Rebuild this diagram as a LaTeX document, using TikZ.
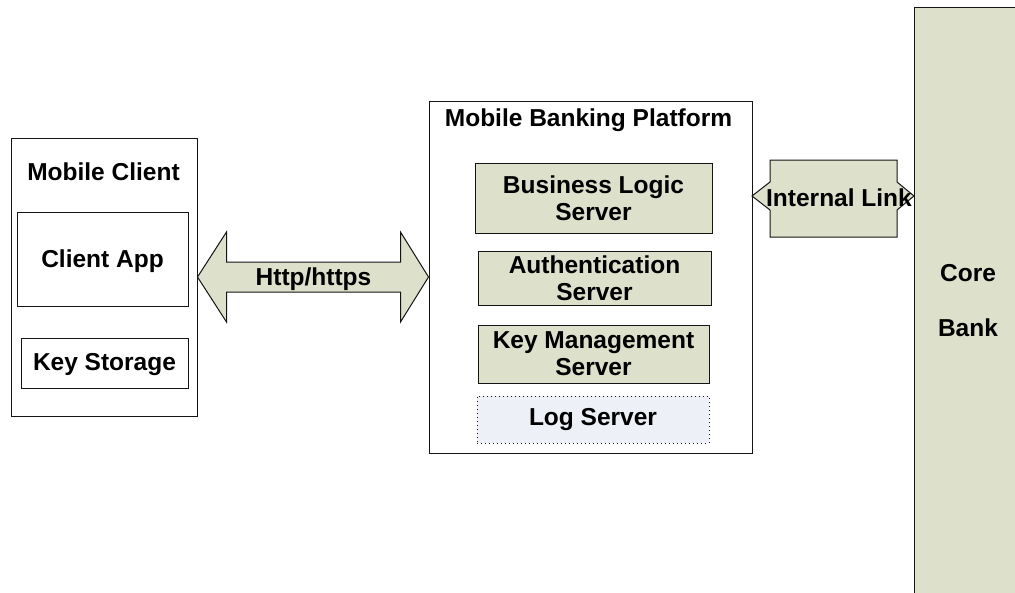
\documentclass[tikz,border=0pt]{standalone}
\usepackage{fontspec}
\setmainfont{Liberation Sans}
\usetikzlibrary{calc}
\definecolor{bankgreen}{RGB}{221,224,203}
\definecolor{logblue}{RGB}{237,240,247}
\definecolor{edge}{RGB}{20,20,20}
\begin{document}
\begin{tikzpicture}[x=1pt,y=-1pt,
  box/.style={draw=edge, line width=1pt, inner sep=0pt, fill=white},
  greenbox/.style={box, fill=bankgreen},
  logbox/.style={draw=edge, line width=1pt, dash pattern=on 1pt off 3pt, fill=logblue, inner sep=0pt},
  lbl/.style={font=\bfseries\fontsize{24.5}{27}\selectfont, align=center},
  txt/.style={lbl, inner sep=0pt},
  bigarrow/.style={draw=edge, line width=1pt, fill=bankgreen, line join=miter},
]
\useasboundingbox (0,0) rectangle (1015,592);
\clip (0,0) rectangle (1015,592);

% Core bank
\draw[greenbox] (914,7) rectangle (1030,610);
\node[txt] (core) at (968,300.5) {Core\\[28pt]Bank};
\coordinate (corewest) at (914,196);

% Mobile client
\node[box, minimum width=186pt, minimum height=278pt] (mc) at (104,277) {};
\node[txt] (mctitle) at (103.5,172) {Mobile Client};
\node[box, minimum width=171pt, minimum height=94pt] (app) at (102.5,259) {};
\node[txt] (apptext) at (102.5,261) {Client App};
\node[box, minimum width=167pt, minimum height=50pt] (keys) at (104.5,363) {};
\node[txt] (keystext) at (104.5,365) {Key Storage};

% Platform
\node[box, minimum width=323pt, minimum height=352pt] (plat) at (590.5,277) {};
\node[txt] (plattitle) at (588.5,120) {Mobile Banking Platform};
\node[greenbox, lbl, minimum width=237pt, minimum height=70pt] (bls) at (593.5,198) {Business Logic\\Server};
\node[greenbox, lbl, minimum width=233pt, minimum height=54pt] (auth) at (594.5,278) {Authentication\\Server};
\node[greenbox, lbl, minimum width=231pt, minimum height=58pt] (kms) at (593.5,354) {Key Management\\Server};
\node[logbox, minimum width=232pt, minimum height=47pt] (log) at (593,419.5) {};
\node[txt] (logtext) at (593,420) {Log Server};

% Http/https double arrow
\draw[bigarrow] (mc.east)
  -- ($(mc.east)+(29,-45)$) -- ($(mc.east)+(29,-15)$)
  -- ($(plat.west)+(-28,-15)$) -- ($(plat.west)+(-28,-45)$)
  -- (plat.west)
  -- ($(plat.west)+(-28,45)$) -- ($(plat.west)+(-28,15)$)
  -- ($(mc.east)+(29,15)$) -- ($(mc.east)+(29,45)$) -- cycle;
\node[txt] (http) at (313.5,279) {Http/https};

% Internal link
\coordinate (platlink) at (752,196);
\draw[bigarrow] (platlink)
  -- ($(platlink)+(18,-14)$) -- ($(platlink)+(18,-36)$)
  -- ($(corewest)+(-17,-36)$) -- ($(corewest)+(-17,-14)$)
  -- (corewest)
  -- ($(corewest)+(-17,14)$) -- ($(corewest)+(-17,41)$)
  -- ($(platlink)+(18,41)$) -- ($(platlink)+(18,14)$) -- cycle;
\node[txt] (ilink) at (839,198) {Internal Link};
\end{tikzpicture}
\end{document}
